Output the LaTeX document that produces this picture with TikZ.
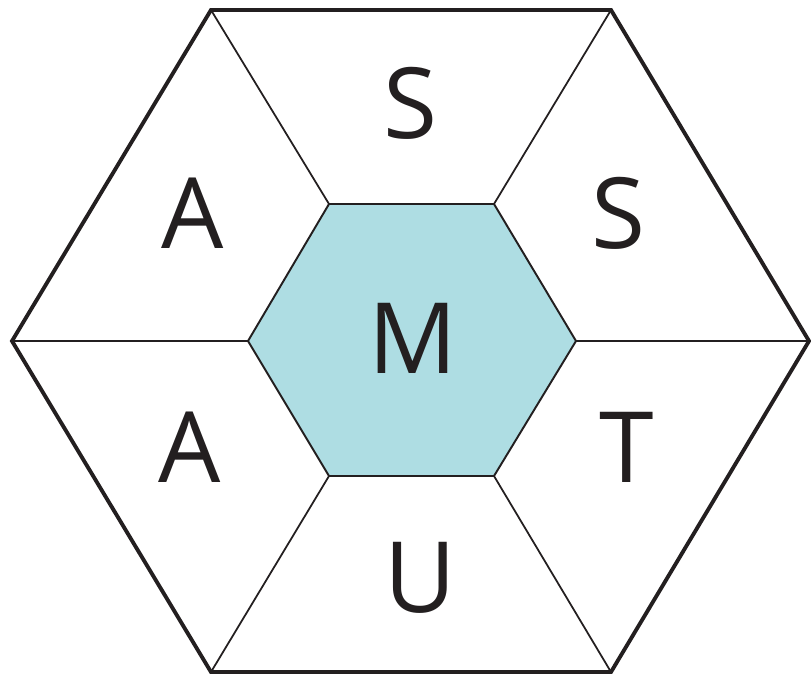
\documentclass[tikz,border=0pt]{standalone}
\usepackage{fontspec}
\setmainfont{Open Sans}
\definecolor{hexblue}{RGB}{174,221,227}
\definecolor{inkgray}{RGB}{35,31,32}

\begin{document}
\begin{tikzpicture}[x=0.02cm,y=-0.02cm, every node/.style={font=\fontsize{56}{56}\selectfont, text=inkgray}]
  \useasboundingbox (0,0) rectangle (811,676);
  % inner hexagon
  \coordinate (i1) at (248,341); \coordinate (i2) at (329,204); \coordinate (i3) at (494,204);
  \coordinate (i4) at (576,341); \coordinate (i5) at (494,476); \coordinate (i6) at (329,476);
  % outer hexagon
  \coordinate (o1) at (12,341); \coordinate (o2) at (211,10); \coordinate (o3) at (611,10);
  \coordinate (o4) at (809,341); \coordinate (o5) at (611,672); \coordinate (o6) at (211,672);
  \fill[hexblue] (i1) -- (i2) -- (i3) -- (i4) -- (i5) -- (i6) -- cycle;
  \draw[inkgray, line width=1.1pt, line join=miter] (i1) -- (i2) -- (i3) -- (i4) -- (i5) -- (i6) -- cycle;
  \foreach \k in {1,...,6} \draw[inkgray, line width=1pt] (i\k) -- (o\k);
  \draw[inkgray, line width=2.2pt, line join=miter] (o1) -- (o2) -- (o3) -- (o4) -- (o5) -- (o6) -- cycle;
  \node (mid) at (413,338) {M};
  \node (top) at (410,103) {S};
  \node (upright) at (618,213) {S};
  \node (upleft) at (193,213) {A};
  \node (lowleft) at (190,447) {A};
  \node (lowright) at (627,447) {T};
  \node (bottom) at (420,578) {U};
\end{tikzpicture}
\end{document}
